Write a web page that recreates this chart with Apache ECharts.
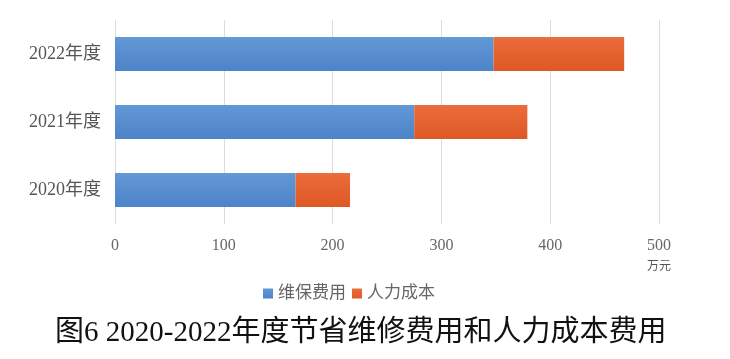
<!DOCTYPE html>
<html><head><meta charset="utf-8">
<script src="https://cdn.jsdelivr.net/npm/echarts@6/dist/echarts.min.js"></script>
<style>html,body{margin:0;padding:0;background:#fff}#c{width:730px;height:359px}</style>
</head><body><div id="c"></div>
<script>
var categories = ['2020年度', '2021年度', '2022年度'];
var maintenance = [166, 275, 348];
var labor = [50, 104, 120];
var xTicks = [0, 100, 200, 300, 400, 500];
var seriesNames = ['维保费用', '人力成本'];
var unitLabel = '万元';
var titleText = '图6 2020-2022年度节省维修费用和人力成本费用';

var font = '"Liberation Serif", "Noto Sans CJK SC", serif';
var chart = echarts.init(document.getElementById('c'));
chart.setOption({
  animation: false,
  title: {
    text: titleText, left: 50, top: 314,
    textStyle: {fontFamily: font, fontSize: 29, fontWeight: 'normal', color: '#111'}
  },
  legend: {
    data: seriesNames, left: 258, top: 280, itemWidth: 10, itemHeight: 10, itemGap: 6,
    icon: 'rect',
    textStyle: {fontFamily: font, fontSize: 17, color: '#666'}
  },
  grid: {left: 115, right: 71, top: 20, height: 204, containLabel: false},
  xAxis: {
    type: 'value', min: xTicks[0], max: xTicks[xTicks.length - 1], interval: 100,
    name: unitLabel, nameLocation: 'end', nameGap: 0,
    nameTextStyle: {fontFamily: font, fontSize: 12, color: '#555', align: 'center', verticalAlign: 'top', padding: [37, 0, 0, 0]},
    axisLine: {show: false}, axisTick: {show: false},
    axisLabel: {fontFamily: font, fontSize: 16, color: '#666', margin: 14},
    splitLine: {show: true, lineStyle: {color: '#dcdcdc', width: 1}}
  },
  yAxis: {
    type: 'category', data: categories,
    axisLine: {show: false}, axisTick: {show: false},
    axisLabel: {fontFamily: font, fontSize: 18, color: '#555', margin: 14}
  },
  series: [
    {name: seriesNames[0], type: 'bar', stack: 'a', data: maintenance, barWidth: '50%',
     itemStyle: {color: new echarts.graphic.LinearGradient(0, 0, 0, 1, [{offset: 0, color: '#6398d6'}, {offset: 1, color: '#4d84c8'}])}},
    {name: seriesNames[1], type: 'bar', stack: 'a', data: labor, barWidth: '50%',
     itemStyle: {color: new echarts.graphic.LinearGradient(0, 0, 0, 1, [{offset: 0, color: '#ec6c3c'}, {offset: 1, color: '#de5824'}])}}
  ]
});
</script></body></html>
